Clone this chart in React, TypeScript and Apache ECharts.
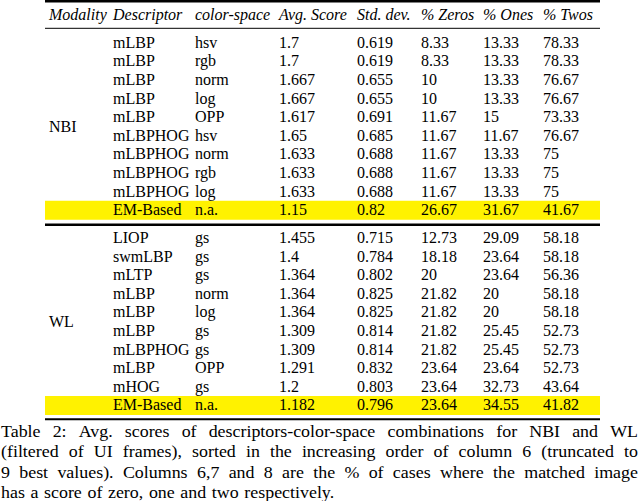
import React, { useEffect, useRef } from "react";
import * as echarts from "echarts";

const headers = ["Modality", "Descriptor", "color-space", "Avg. Score", "Std. dev.", "% Zeros", "% Ones", "% Twos"];

const nbiDescriptors = ["mLBP", "mLBP", "mLBP", "mLBP", "mLBP", "mLBPHOG", "mLBPHOG", "mLBPHOG", "mLBPHOG", "EM-Based"];
const nbiColorSpaces = ["hsv", "rgb", "norm", "log", "OPP", "hsv", "norm", "rgb", "log", "n.a."];
const nbiAvgScores = [1.7, 1.7, 1.667, 1.667, 1.617, 1.65, 1.633, 1.633, 1.633, 1.15];
const nbiStdDevs = [0.619, 0.619, 0.655, 0.655, 0.691, 0.685, 0.688, 0.688, 0.688, 0.82];
const nbiZeros = [8.33, 8.33, 10, 10, 11.67, 11.67, 11.67, 11.67, 11.67, 26.67];
const nbiOnes = [13.33, 13.33, 13.33, 13.33, 15, 11.67, 13.33, 13.33, 13.33, 31.67];
const nbiTwos = [78.33, 78.33, 76.67, 76.67, 73.33, 76.67, 75, 75, 75, 41.67];

const wlDescriptors = ["LIOP", "swmLBP", "mLTP", "mLBP", "mLBP", "mLBP", "mLBPHOG", "mLBP", "mHOG", "EM-Based"];
const wlColorSpaces = ["gs", "gs", "gs", "norm", "log", "gs", "gs", "OPP", "gs", "n.a."];
const wlAvgScores = [1.455, 1.4, 1.364, 1.364, 1.364, 1.309, 1.309, 1.291, 1.2, 1.182];
const wlStdDevs = [0.715, 0.784, 0.802, 0.825, 0.825, 0.814, 0.814, 0.832, 0.803, 0.796];
const wlZeros = [12.73, 18.18, 20, 21.82, 21.82, 21.82, 21.82, 23.64, 23.64, 23.64];
const wlOnes = [29.09, 23.64, 23.64, 20, 20, 25.45, 25.45, 23.64, 32.73, 34.55];
const wlTwos = [58.18, 58.18, 56.36, 58.18, 58.18, 52.73, 52.73, 52.73, 43.64, 41.82];

const captionLines = [
  "Table 2: Avg. scores of descriptors-color-space combinations for NBI and WL",
  "(filtered of UI frames), sorted in the increasing order of column 6 (truncated to",
  "9 best values). Columns 6,7 and 8 are the % of cases where the matched image",
  "has a score of zero, one and two respectively.",
];

const FAMILY = "'Liberation Serif', 'Times New Roman', serif";
const FONT = `16px ${FAMILY}`;
const IFONT = `italic 16px ${FAMILY}`;
const COLS = [49, 113, 195, 279, 357, 421, 483, 543];
const TABLE_L = 45;
const TABLE_R = 600;
const ROW_H = 18.6;
const HIGHLIGHT = "#fff200";
const CAP_SCALE = 1.12;

function txt(text: string, x: number, y: number, font = FONT, scaleX = 1): any {
  return {
    type: "text",
    silent: true,
    z: 10,
    x,
    y,
    scaleX,
    style: {
      text,
      x: 0,
      y: 0,
      font,
      fill: "#000",
      align: "left",
      textAlign: "left",
      verticalAlign: "middle",
      textVerticalAlign: "middle",
    },
  };
}

function hline(y: number, w: number): any {
  return {
    type: "line",
    silent: true,
    z: 5,
    shape: { x1: TABLE_L, y1: y, x2: TABLE_R, y2: y },
    style: { stroke: "#000", lineWidth: w },
  };
}

function groupElements(label: string, top: number, cols: (string | number)[][]): any[] {
  const els: any[] = [];
  const n = cols[0].length;
  const lastY = top + (n - 1) * ROW_H;
  els.push({
    type: "rect",
    silent: true,
    z: 1,
    shape: { x: TABLE_L, y: lastY - 9, width: TABLE_R - TABLE_L, height: 19 },
    style: { fill: HIGHLIGHT },
  });
  els.push(txt(label, COLS[0], top + ((n - 1) * ROW_H) / 2));
  for (let r = 0; r < n; r++) {
    const y = top + r * ROW_H;
    cols.forEach((col, c) => {
      els.push(txt(String(col[r]), COLS[c + 1], y));
    });
  }
  return els;
}

export default function App() {
  const ref = useRef<HTMLDivElement>(null);
  useEffect(() => {
    if (!ref.current) return;
    const chart = echarts.init(ref.current, undefined, { renderer: "svg" });
    const elements: any[] = [];

    elements.push(hline(1.2, 2.4));
    elements.push(hline(28.3, 1));
    elements.push(hline(224.7, 2.6));
    elements.push(hline(419.3, 2));

    headers.forEach((h, i) => elements.push(txt(h, COLS[i], 14.5, IFONT)));

    elements.push(
      ...groupElements("NBI", 42.3, [nbiDescriptors, nbiColorSpaces, nbiAvgScores, nbiStdDevs, nbiZeros, nbiOnes, nbiTwos])
    );
    elements.push(
      ...groupElements("WL", 237.5, [wlDescriptors, wlColorSpaces, wlAvgScores, wlStdDevs, wlZeros, wlOnes, wlTwos])
    );

    const canvas = document.createElement("canvas");
    const ctx = canvas.getContext("2d")!;
    ctx.font = FONT;
    const capL = 1;
    const capR = 638;
    const capTop = 431.5;
    const capStep = 20.6;
    const spaceW = ctx.measureText(" ").width * CAP_SCALE * 1.25;
    captionLines.forEach((line, li) => {
      const y = capTop + li * capStep;
      const words = line.split(" ");
      const widths = words.map((w) => ctx.measureText(w).width * CAP_SCALE);
      const total = widths.reduce((a, b) => a + b, 0);
      const last = li === captionLines.length - 1;
      const gap = last ? spaceW : (capR - capL - total) / (words.length - 1);
      let x = capL;
      words.forEach((w, wi) => {
        elements.push(txt(w, x, y, FONT, CAP_SCALE));
        x += widths[wi] + gap;
      });
    });

    chart.setOption({
      animation: false,
      backgroundColor: "#ffffff",
      graphic: { elements },
    });
    return () => chart.dispose();
  }, []);
  return (
    <div ref={ref} style={{ position: "fixed", left: 0, top: 0, width: 640, height: 501, background: "#fff" }} />
  );
}
